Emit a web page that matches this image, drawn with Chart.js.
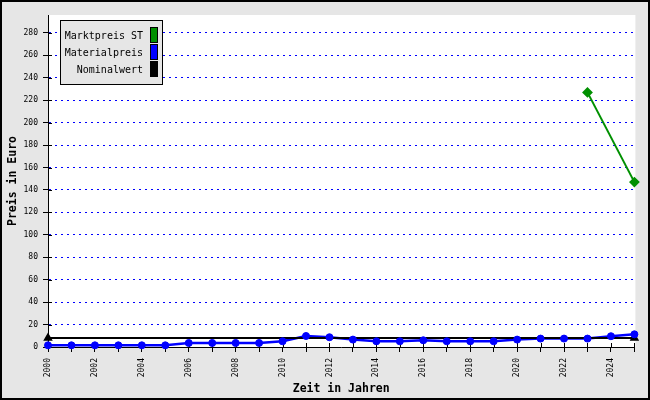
<!doctype html>
<html>

<head>
    <title>Preisentwicklung</title>
    <script src="https://cdn.jsdelivr.net/npm/chart.js"></script>
</head>

<style>
    body {
        margin: 0;
        background-color: #e6e6e6;
    }
</style>

<body>

    <canvas id="preise" width="650" height="400"></canvas>

    <script>

        var jahre = ['2000', '2001', '2002', '2003', '2004', '2005', '2006', '2007', '2008', '2009', '2010', '2011', '2012',
            '2013', '2014', '2015', '2016', '2017', '2018', '2019', '2020', '2021', '2022', '2023', '2024', '2025'];
        var materialpreis = [1.5, 1.5, 1.5, 1.5, 1.5, 1.5, 3.6, 3.6, 3.6, 3.6, 5.1, 9.8, 8.7,
            6.6, 5.1, 5.1, 6.0, 5.1, 5.1, 5.1, 6.6, 7.5, 7.5, 7.5, 9.6, 11.3];
        var marktpreisST = [null, null, null, null, null, null, null, null, null, null, null, null, null,
            null, null, null, null, null, null, null, null, null, null, 227, null, 147];
        var nominalwert = [8, null, null, null, null, null, null, null, null, null, null, null, null,
            null, null, null, null, null, null, null, null, null, null, null, null, 8];
        var yTicks = [0, 20, 40, 60, 80, 100, 120, 140, 160, 180, 200, 220, 240, 260, 280];

        var legende = [
            { text: 'Marktpreis ST', color: '#009000' },
            { text: 'Materialpreis', color: '#0000ff' },
            { text: 'Nominalwert', color: '#000000' }
        ];

        Chart.defaults.font.family = "'DejaVu Sans Mono', monospace";
        Chart.defaults.color = '#000';

        // hintergrund, rahmen, innere ticks und legende
        var rahmen = {
            id: 'rahmen',
            beforeDraw(chart) {
                var ctx = chart.ctx;
                var a = chart.chartArea;
                ctx.save();
                ctx.fillStyle = '#e6e6e6';
                ctx.fillRect(0, 0, chart.width, chart.height);
                ctx.fillStyle = '#fff';
                ctx.fillRect(a.left, a.top, a.right - a.left + 1, a.bottom - a.top);
                ctx.restore();
            },
            beforeDatasetsDraw(chart) {
                var ctx = chart.ctx;
                var x = chart.scales.x;
                var y = chart.scales.y;
                ctx.save();
                ctx.strokeStyle = '#000';
                ctx.lineWidth = 1;
                ctx.beginPath();
                x.ticks.forEach((t, i) => {
                    var px = Math.round(x.getPixelForTick(i)) + 0.5;
                    ctx.moveTo(px, y.bottom - 4);
                    ctx.lineTo(px, y.bottom);
                });
                y.ticks.forEach((t, i) => {
                    if (t.value == 0) return;
                    var py = Math.round(y.getPixelForValue(t.value)) + 0.5;
                    ctx.moveTo(x.left, py);
                    ctx.lineTo(x.left + 4, py);
                });
                ctx.stroke();
                ctx.restore();
            },
            afterDraw(chart) {
                var ctx = chart.ctx;
                ctx.save();
                ctx.lineWidth = 2;
                ctx.strokeStyle = '#000';
                ctx.strokeRect(1, 1, chart.width - 2, chart.height - 2);

                ctx.lineWidth = 1;
                ctx.fillStyle = '#e6e6e6';
                ctx.fillRect(60.5, 20.5, 102, 64);
                ctx.strokeRect(60.5, 20.5, 102, 64);
                ctx.font = "10px 'DejaVu Sans Mono'";
                ctx.textAlign = 'right';
                ctx.textBaseline = 'middle';
                legende.forEach((eintrag, i) => {
                    var top = 27.5 + i * 17;
                    ctx.fillStyle = '#000';
                    ctx.fillText(eintrag.text, 143, top + 9);
                    ctx.fillStyle = eintrag.color;
                    ctx.fillRect(150.5, top, 7, 15);
                    ctx.strokeRect(150.5, top, 7, 15);
                });
                ctx.restore();
            }
        };

        var preise = new Chart(document.getElementById('preise').getContext('2d'), {
            type: 'line',
            data: {
                labels: jahre,
                datasets: [{
                    label: 'Materialpreis',
                    data: materialpreis,
                    showLine: false,
                    pointStyle: 'circle',
                    pointRadius: 3.5,
                    pointBackgroundColor: '#0000ff',
                    pointBorderColor: '#0000ff',
                    pointBorderWidth: 1,
                    clip: false
                }, {
                    label: 'Marktpreis ST',
                    data: marktpreisST,
                    borderColor: '#009000',
                    borderWidth: 2,
                    spanGaps: true,
                    pointStyle: 'rectRot',
                    pointRadius: 4,
                    pointBackgroundColor: '#009000',
                    pointBorderColor: '#009000',
                    clip: false
                }, {
                    label: 'Nominalwert',
                    data: nominalwert,
                    borderColor: '#000',
                    borderWidth: 2,
                    spanGaps: true,
                    pointStyle: 'triangle',
                    pointRadius: 3.5,
                    pointBackgroundColor: '#000',
                    pointBorderColor: '#000',
                    clip: false
                }, {
                    label: 'Materialpreis Linie',
                    data: materialpreis,
                    borderColor: '#0000ff',
                    borderWidth: 2.5,
                    pointRadius: 0,
                    clip: false
                }]
            },
            plugins: [rahmen],
            options: {
                responsive: false,
                animation: false,
                layout: {
                    padding: { left: 0, top: 15, right: 15, bottom: 0 }
                },
                plugins: {
                    legend: { display: false },
                    tooltip: { enabled: false }
                },
                scales: {
                    x: {
                        type: 'category',
                        offset: false,
                        afterFit: (scale) => { scale.height = 53; },
                        grid: {
                            drawOnChartArea: false,
                            tickLength: 5,
                            color: '#000'
                        },
                        border: { color: '#000', width: 1 },
                        ticks: {
                            autoSkip: false,
                            minRotation: 90,
                            maxRotation: 90,
                            padding: 6,
                            font: { size: 8 },
                            callback: function (value, index) {
                                return index % 2 == 0 ? jahre[index] : '';
                            }
                        },
                        title: {
                            display: true,
                            text: 'Zeit in Jahren',
                            font: { size: 11.5, weight: 'bold' },
                            padding: { top: 0, bottom: 4 }
                        }
                    },
                    y: {
                        min: 0,
                        max: 296,
                        afterFit: (scale) => { scale.width = 48; },
                        afterBuildTicks: (scale) => {
                            scale.ticks = yTicks.map(v => ({ value: v }));
                        },
                        grid: {
                            tickLength: 5,
                            color: (c) => c.tick && c.tick.value == 0 ? 'rgba(0,0,0,0)' : '#0000ff',
                            tickColor: '#000'
                        },
                        border: { color: '#000', width: 1, dash: [2, 4] },
                        ticks: {
                            padding: 5,
                            font: { size: 8 }
                        },
                        title: {
                            display: true,
                            text: 'Preis in Euro',
                            font: { size: 11.5, weight: 'bold' },
                            padding: { top: 6, bottom: 0 }
                        }
                    }
                }
            }
        });

    </script>
</body>

</html>
